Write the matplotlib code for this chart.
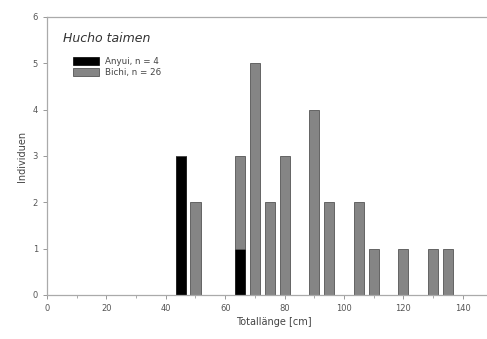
import matplotlib.pyplot as plt
import numpy as np

# Totallänge classes (cm) and counts per site
lengths = [45, 50, 65, 70, 75, 80, 90, 95, 105, 110, 120, 130, 135]
anyui = [3, 0, 1, 0, 0, 0, 0, 0, 0, 0, 0, 0, 0]
bichi = [0, 2, 2, 5, 2, 3, 4, 2, 2, 1, 1, 1, 1]

x_ticks = [0, 20, 40, 60, 80, 100, 120, 140]
y_ticks = [0, 1, 2, 3, 4, 5, 6]

fig = plt.figure(figsize=(4.87, 3.39), dpi=100)
ax = fig.add_axes([0.0965, 0.13, 0.93, 0.82])

ax.bar(lengths, anyui, width=3.4, color='black', edgecolor='black', linewidth=0.5,
       label='Anyui, n = 4')
ax.bar(lengths, bichi, width=3.4, bottom=anyui, color='#858585', edgecolor='#555555',
       linewidth=0.6, label='Bichi, n = 26')

ax.set_xlim(0, 152.5)
ax.set_ylim(0, 6)
ax.set_xticks(x_ticks)
ax.set_yticks(y_ticks)
ax.set_xticks(np.arange(10, 150, 20), minor=True)
ax.tick_params(axis='both', which='major', labelsize=6, length=3, width=0.6,
               color='#888888', labelcolor='#555555')
ax.tick_params(axis='x', which='minor', length=2, width=0.5, color='#888888')

for s in ax.spines.values():
    s.set_color('#aaaaaa')
    s.set_linewidth(0.9)

ax.set_xlabel('Totallänge [cm]', fontsize=7, color='#444444', labelpad=3)
ax.set_ylabel('Individuen', fontsize=7, color='#444444', labelpad=4)

ax.text(5.5, 5.45, 'Hucho taimen', fontsize=9, style='italic', color='#333333')
leg = ax.legend(loc='upper left', bbox_to_anchor=(0.05, 0.87), frameon=False,
                fontsize=6.3, handlelength=3.0, handleheight=1.0, handletextpad=0.6,
                labelspacing=0.25, borderaxespad=0)
for t in leg.get_texts():
    t.set_color('#444444')

fig.savefig('out.png', dpi=100)
